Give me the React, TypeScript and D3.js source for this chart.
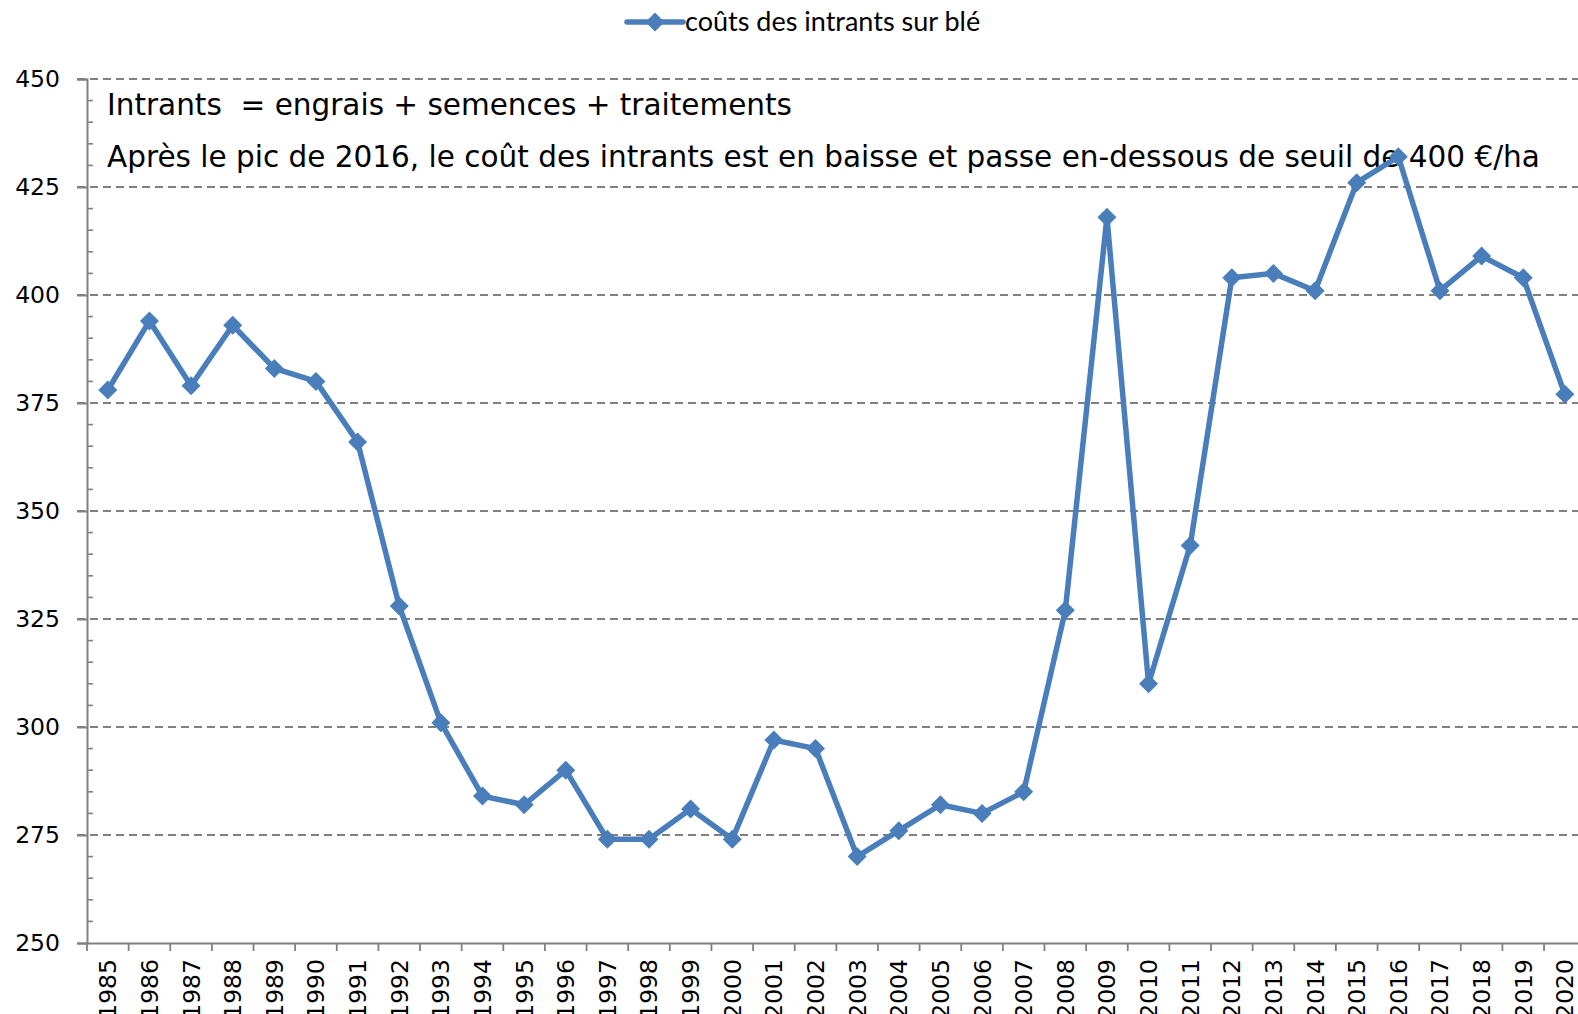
import React, { useRef, useEffect } from "react";
import * as d3 from "d3";

const years = [
  "1985", "1986", "1987", "1988", "1989", "1990", "1991", "1992", "1993",
  "1994", "1995", "1996", "1997", "1998", "1999", "2000", "2001", "2002",
  "2003", "2004", "2005", "2006", "2007", "2008", "2009", "2010", "2011",
  "2012", "2013", "2014", "2015", "2016", "2017", "2018", "2019", "2020",
];

const coutsIntrants = [
  378, 394, 379, 393, 383, 380, 366, 328, 301, 284, 282, 290, 274, 274, 281,
  274, 297, 295, 270, 276, 282, 280, 285, 327, 418, 310, 342, 404, 405, 401,
  426, 432, 401, 409, 404, 377,
];

const yTicks = [250, 275, 300, 325, 350, 375, 400, 425, 450];

const seriesName = "coûts des intrants sur blé";
const noteLines = [
  "Intrants  = engrais + semences + traitements",
  "Après le pic de 2016, le coût des intrants est en baisse et passe en-dessous de seuil de 400 €/ha",
];

const App = () => {
  const chartRef = useRef(null);

  useEffect(() => {
    const W = 1578;
    const H = 1014;
    const margin = { top: 79, left: 87, bottom: 71 };
    const plotW = 41.63 * years.length;
    const plotH = H - margin.top - margin.bottom;
    const blue = "#4A7EBB";
    const grey = "#808080";
    const font = "'DejaVu Sans', Verdana, sans-serif";

    d3.select(chartRef.current).selectAll("*").remove();

    const svg = d3
      .select(chartRef.current)
      .attr("width", W)
      .attr("height", H)
      .style("background", "#fff");

    const g = svg
      .append("g")
      .attr("transform", `translate(${margin.left}, ${margin.top})`);

    const x = d3.scaleBand().domain(years).range([0, plotW]);
    const y = d3.scaleLinear().domain([250, 450]).range([plotH, 0]);

    // dashed gridlines
    g.selectAll(".grid")
      .data(yTicks.slice(1))
      .enter()
      .append("line")
      .attr("x1", -10)
      .attr("x2", plotW)
      .attr("y1", (d) => y(d))
      .attr("y2", (d) => y(d))
      .attr("stroke", grey)
      .attr("stroke-width", 2)
      .attr("stroke-dasharray", "8,5");

    // minor ticks on the right side of the y axis
    const minor = d3.range(250, 450, 5).filter((v) => v % 25 !== 0);
    g.selectAll(".minor")
      .data(minor)
      .enter()
      .append("line")
      .attr("x1", 0)
      .attr("x2", 6)
      .attr("y1", (d) => y(d))
      .attr("y2", (d) => y(d))
      .attr("stroke", grey)
      .attr("stroke-width", 1.6);

    // y axis
    const yAxis = g
      .append("g")
      .call(d3.axisLeft(y).tickValues(yTicks).tickSize(10).tickPadding(17));
    yAxis.select(".domain").attr("stroke", grey).attr("stroke-width", 2);
    yAxis.selectAll(".tick line").attr("stroke", grey).attr("stroke-width", 2);
    yAxis
      .selectAll("text")
      .attr("fill", "#000")
      .style("font-family", font)
      .style("font-size", "23.5px");

    // x axis
    const xAxis = g
      .append("g")
      .attr("transform", `translate(0, ${plotH})`)
      .call(d3.axisBottom(x).tickSize(0).tickFormat(() => ""));
    xAxis.select(".domain").attr("stroke", grey).attr("stroke-width", 2);
    xAxis.selectAll(".tick").remove();

    const bounds = [...years.map((d) => x(d)), plotW];
    g.selectAll(".xtick")
      .data(bounds)
      .enter()
      .append("line")
      .attr("x1", (d) => d)
      .attr("x2", (d) => d)
      .attr("y1", plotH)
      .attr("y2", plotH + 8)
      .attr("stroke", grey)
      .attr("stroke-width", 1.8);

    g.selectAll(".xlabel")
      .data(years)
      .enter()
      .append("text")
      .attr(
        "transform",
        (d) => `translate(${x(d) + x.bandwidth() / 2}, ${plotH + 16}) rotate(-90)`,
      )
      .attr("text-anchor", "end")
      .attr("dy", "0.36em")
      .style("font-family", font)
      .style("font-size", "23.5px")
      .text((d) => d);

    // annotation
    g.selectAll(".note")
      .data(noteLines)
      .enter()
      .append("text")
      .attr("x", 20)
      .attr("y", (d, i) => 36 + i * 52)
      .style("font-family", font)
      .style("font-size", "29.5px")
      .style("white-space", "pre")
      .attr("xml:space", "preserve")
      .text((d) => d);

    // series
    const pts = years.map((d, i) => [x(d) + x.bandwidth() / 2, y(coutsIntrants[i])]);
    g.append("path")
      .attr("d", d3.line()(pts))
      .attr("fill", "none")
      .attr("stroke", blue)
      .attr("stroke-width", 5.5)
      .attr("stroke-linejoin", "round");

    const diamond = d3.symbol().type(d3.symbolDiamond2).size(230);
    g.selectAll(".pt")
      .data(pts)
      .enter()
      .append("path")
      .attr("transform", (d) => `translate(${d[0]}, ${d[1]})`)
      .attr("d", diamond)
      .attr("fill", blue);

    // legend
    const leg = svg.append("g").attr("transform", "translate(627, 22)");
    leg
      .append("line")
      .attr("x1", 0)
      .attr("x2", 56)
      .attr("stroke", blue)
      .attr("stroke-width", 5.5)
      .attr("stroke-linecap", "round");
    leg
      .append("path")
      .attr("transform", "translate(28, 0)")
      .attr("d", diamond)
      .attr("fill", blue);
    leg
      .append("text")
      .attr("x", 58)
      .attr("dy", "0.35em")
      .style("font-family", "Lato, 'Open Sans', sans-serif")
      .style("font-size", "27px")
      .text(seriesName);
  }, []);

  return (
    <div style={{ position: "absolute", left: 0, top: 0 }}>
      <svg ref={chartRef} style={{ display: "block" }}></svg>
    </div>
  );
};

export default App;
